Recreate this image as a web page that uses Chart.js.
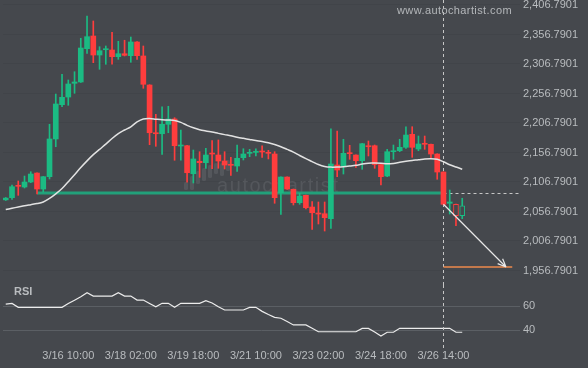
<!DOCTYPE html>
<html>
<head>
<meta charset="utf-8">
<script src="https://cdn.jsdelivr.net/npm/chart.js@4.4.1/dist/chart.umd.min.js"></script>
<style>
  html, body { margin: 0; padding: 0; background: #45484d; }
  #wrap { position: relative; width: 588px; height: 368px; overflow: hidden; }
  #priceBox { position: absolute; left: 0; top: 0; width: 588px; height: 285px; }
  #rsiBox { position: absolute; left: 0; top: 285px; width: 588px; height: 83px; }
</style>
</head>
<body>
<div id="wrap">
  <div id="priceBox"><canvas id="priceChart"></canvas></div>
  <div id="rsiBox"><canvas id="rsiChart"></canvas></div>
</div>
<script>
// 4 hour candles
const times = [
  "3/14 18:00", "3/14 22:00", "3/15 02:00", "3/15 06:00", "3/15 10:00", "3/15 14:00", "3/15 18:00", "3/15 22:00",
  "3/16 02:00", "3/16 06:00", "3/16 10:00", "3/16 14:00", "3/16 18:00", "3/16 22:00", "3/17 02:00", "3/17 06:00",
  "3/17 10:00", "3/17 14:00", "3/17 18:00", "3/17 22:00", "3/18 02:00", "3/18 06:00", "3/18 10:00", "3/18 14:00",
  "3/18 18:00", "3/18 22:00", "3/19 02:00", "3/19 06:00", "3/19 10:00", "3/19 14:00", "3/19 18:00", "3/19 22:00",
  "3/20 02:00", "3/20 06:00", "3/20 10:00", "3/20 14:00", "3/20 18:00", "3/20 22:00", "3/21 02:00", "3/21 06:00",
  "3/21 10:00", "3/21 14:00", "3/21 18:00", "3/21 22:00", "3/22 02:00", "3/22 06:00", "3/22 10:00", "3/22 14:00",
  "3/22 18:00", "3/22 22:00", "3/23 02:00", "3/23 06:00", "3/23 10:00", "3/23 14:00", "3/23 18:00", "3/23 22:00",
  "3/24 02:00", "3/24 06:00", "3/24 10:00", "3/24 14:00", "3/24 18:00", "3/24 22:00", "3/25 02:00", "3/25 06:00",
  "3/25 10:00", "3/25 14:00", "3/25 18:00", "3/25 22:00", "3/26 06:00", "3/26 10:00", "3/26 14:00", "3/26 18:00",
  "3/26 22:00", "3/27 02:00"
];

const opens = [
  2076.5, 2080.2, 2101.2, 2098.3, 2106.8, 2122.0, 2094.9, 2115.8, 2179.7, 2237.8,
  2250.8, 2274.1, 2276.3, 2332.7, 2354.2, 2322.0, 2331.0, 2330.5, 2319.2, 2324.2,
  2320.9, 2344.1, 2320.4, 2271.2, 2190.3, 2188.6, 2204.6, 2213.6, 2167.8, 2168.3,
  2120.8, 2141.9, 2139.5, 2155.9, 2152.5, 2142.4, 2136.8, 2133.9, 2148.0, 2155.4,
  2157.0, 2159.3, 2156.5, 2154.2, 2088.6, 2115.2, 2094.4, 2071.7, 2084.2, 2064.4,
  2054.2, 2053.0, 2044.6, 2135.6, 2133.9, 2156.5, 2152.5, 2142.9, 2167.8, 2168.3,
  2136.4, 2116.9, 2158.1, 2159.8, 2165.6, 2187.6, 2162.7, 2172.4, 2170.7, 2154.2,
  2123.7, 2070.7, 2069.0, 2049.7
];
const highs = [
  2080.5, 2101.7, 2108.5, 2116.9, 2124.2, 2122.5, 2116.3, 2204.6, 2255.9, 2289.3,
  2279.7, 2293.7, 2350.4, 2388.1, 2379.7, 2336.1, 2337.3, 2360.5, 2345.3, 2347.0,
  2352.5, 2344.6, 2337.3, 2271.7, 2221.5, 2234.4, 2235.1, 2215.8, 2194.9, 2169.0,
  2161.0, 2158.1, 2163.9, 2176.8, 2178.0, 2158.1, 2148.6, 2169.5, 2163.2, 2162.2,
  2163.2, 2168.3, 2160.5, 2158.1, 2115.7, 2115.7, 2095.0, 2087.6, 2084.7, 2073.4,
  2072.9, 2072.9, 2197.1, 2193.2, 2179.2, 2169.0, 2153.0, 2172.2, 2176.3, 2169.5,
  2137.0, 2162.2, 2169.5, 2179.2, 2200.5, 2200.5, 2184.7, 2184.7, 2171.2, 2154.7,
  2124.2, 2093.2, 2069.5, 2079.2
];
const lows = [
  2075.5, 2077.4, 2084.2, 2096.6, 2105.6, 2086.5, 2089.8, 2111.9, 2166.6, 2234.4,
  2236.8, 2257.1, 2275.5, 2324.9, 2309.0, 2297.8, 2306.3, 2306.3, 2314.7, 2320.4,
  2309.7, 2314.7, 2265.6, 2170.0, 2167.3, 2153.7, 2190.3, 2143.6, 2143.6, 2106.3,
  2105.1, 2114.7, 2130.0, 2129.3, 2130.0, 2128.8, 2118.1, 2124.9, 2144.1, 2149.7,
  2150.9, 2148.6, 2145.8, 2070.7, 2052.0, 2094.0, 2067.8, 2069.0, 2061.0, 2026.6,
  2035.6, 2023.7, 2028.3, 2115.8, 2120.3, 2145.2, 2131.7, 2128.3, 2150.9, 2130.0,
  2101.7, 2115.8, 2145.2, 2158.1, 2163.9, 2148.6, 2159.8, 2162.2, 2147.5, 2111.4,
  2067.8, 2052.5, 2032.7, 2044.6
];
const closes = [
  2079.5, 2098.8, 2099.5, 2106.8, 2120.3, 2094.9, 2115.8, 2179.7, 2239.0, 2250.3,
  2272.9, 2276.3, 2333.9, 2353.1, 2322.0, 2329.3, 2332.7, 2319.2, 2324.2, 2321.5,
  2344.1, 2320.9, 2272.4, 2190.3, 2188.6, 2204.6, 2213.6, 2168.3, 2169.5, 2122.5,
  2145.8, 2139.5, 2152.5, 2154.2, 2142.4, 2135.6, 2135.1, 2146.9, 2154.2, 2157.1,
  2158.2, 2157.6, 2155.4, 2080.2, 2115.2, 2094.9, 2071.7, 2083.0, 2063.2, 2054.7,
  2052.5, 2046.3, 2137.3, 2127.1, 2155.4, 2154.8, 2142.9, 2171.7, 2166.6, 2136.4,
  2115.8, 2158.1, 2159.8, 2165.6, 2186.4, 2165.6, 2171.2, 2170.7, 2154.2, 2123.7,
  2069.0, 2072.9, 2049.7, 2066.6
];

// moving average drawn over the candles
const movingAvg = [
  2060.0, 2062.3, 2064.4, 2066.6, 2068.4, 2070.2, 2073.0, 2079.0, 2086.7, 2095.8,
  2107.4, 2119.1, 2131.3, 2142.6, 2153.1, 2162.1, 2171.0, 2180.6, 2188.9, 2194.9,
  2200.4, 2208.7, 2213.7, 2214.5, 2213.3, 2212.2, 2211.9, 2211.1, 2207.9, 2202.8,
  2198.7, 2195.5, 2193.3, 2191.4, 2189.2, 2187.1, 2185.1, 2182.8, 2180.8, 2178.9,
  2177.0, 2175.5, 2173.3, 2170.2, 2166.6, 2162.0, 2157.4, 2151.7, 2146.3, 2141.4,
  2136.4, 2133.1, 2132.0, 2132.1, 2132.7, 2133.8, 2135.1, 2137.2, 2138.7, 2138.8,
  2138.5, 2137.6, 2138.3, 2140.1, 2141.8, 2143.3, 2144.4, 2145.8, 2146.3, 2145.2,
  2141.1, 2136.1, 2132.1, 2128.4
];

const rsiValues = [
  61.6, 62.1, 58.9, 58.9, 58.9, 58.9, 58.9, 58.9, 58.9, 58.9,
  62.0, 64.8, 67.7, 70.9, 68.2, 68.2, 68.2, 68.2, 70.9, 68.2,
  68.2, 64.9, 64.9, 62.1, 59.3, 62.2, 62.2, 58.9, 62.2, 62.2,
  62.2, 62.2, 64.4, 62.5, 59.4, 56.7, 56.7, 56.7, 56.7, 58.9,
  58.9, 55.6, 53.0, 50.7, 49.9, 47.2, 44.4, 44.4, 44.4, 41.7,
  38.8, 38.8, 38.8, 38.8, 38.8, 38.8, 38.8, 41.6, 41.6, 38.6,
  35.3, 38.4, 38.4, 41.6, 41.6, 41.6, 41.6, 41.6, 41.6, 41.6,
  41.6, 41.6, 38.4, 38.4
];

const priceTicks = [2406.7901, 2356.7901, 2306.7901, 2256.7901, 2206.7901, 2156.7901, 2106.7901, 2056.7901, 2006.7901, 1956.7901];
const rsiTicks = [60, 40];
const timeTicks = ["3/16 10:00", "3/18 02:00", "3/19 18:00", "3/21 10:00", "3/23 02:00", "3/24 18:00", "3/26 14:00"];

// pattern / forecast
const supportLevel = 2088.2;
const supportFrom = "3/15 14:00";
const nowTime = "3/26 14:00";
const targetLevel = 1962.7;
const targetBars = 10;      // arrow reaches target after this many bars
const targetLineBars = 11;
const openCandles = 2;      // last candles drawn hollow

const BG = "#45484d";
const UP = "#1bbb83";
const DOWN = "#ff3d3d";
const TEXT = "#b9bcbf";
const FONT = "'Liberation Sans', Arial, Helvetica, sans-serif";
const X_MIN = -0.44;
const X_MAX = 82.24;

Chart.defaults.font.family = FONT;
Chart.defaults.font.size = 11;
Chart.defaults.color = TEXT;

const nowIdx = times.indexOf(nowTime);
const supportIdx = times.indexOf(supportFrom);

const candleColor = closes.map((c, i) => (c >= opens[i] ? UP : DOWN));
const isHollow = times.map((t, i) => i >= times.length - openCandles);

const wickData = times.map((t, i) => ({ x: i, y: [lows[i], highs[i]] }));
const bodyData = times.map((t, i) => ({ x: i, y: [opens[i], closes[i]] }));
const maData = movingAvg.map((v, i) => ({ x: i, y: v }));
const rsiData = rsiValues.map((v, i) => ({ x: i, y: v }));

function formatPrice(v) {
  return Number(v).toLocaleString("en-US", { minimumFractionDigits: 4, maximumFractionDigits: 4 });
}

// keep the plot area full height, tick labels may overhang the edges
function fitRightAxis(scale) {
  scale.width = 68;
  scale.paddingTop = 0;
  scale.paddingBottom = 0;
}

// Watermark, support line, dashed markers, forecast arrow
const priceOverlay = {
  id: "priceOverlay",
  beforeDatasetsDraw(chart) {
    const { ctx, chartArea: a, scales: { x, y } } = chart;
    ctx.save();

    // watermark logo + text
    ctx.fillStyle = "#54575c";
    const logo = [[184, 182, 190], [190, 176, 190], [196, 171, 184], [202, 168, 181],
                  [208, 165, 178], [214, 163, 174], [220, 163, 176], [226, 160, 171]];
    logo.forEach(([lx, top, bottom]) => {
      ctx.beginPath();
      ctx.roundRect(lx, top, 4, bottom - top, 1.5);
      ctx.fill();
    });
    ctx.font = "20px " + FONT;
    ctx.letterSpacing = "1.6px";
    ctx.textBaseline = "alphabetic";
    ctx.fillText("autochartist", 217, 192);
    ctx.letterSpacing = "0px";

    const nx = Math.round(x.getPixelForValue(nowIdx)) + 0.5;
    const sy = y.getPixelForValue(supportLevel);

    ctx.strokeStyle = "#c6c6c6";
    ctx.lineWidth = 1;
    ctx.setLineDash([3, 3]);
    ctx.beginPath();
    ctx.moveTo(nx, a.top);
    ctx.lineTo(nx, a.bottom);
    ctx.moveTo(nx, Math.round(sy) + 0.5);
    ctx.lineTo(a.right, Math.round(sy) + 0.5);
    ctx.stroke();
    ctx.setLineDash([]);

    ctx.strokeStyle = "#22a07a";
    ctx.lineWidth = 3;
    ctx.beginPath();
    ctx.moveTo(x.getPixelForValue(supportIdx), sy);
    ctx.lineTo(nx, sy);
    ctx.stroke();
    ctx.restore();
  },
  afterDatasetsDraw(chart) {
    const { ctx, scales: { x, y } } = chart;
    const x0 = x.getPixelForValue(nowIdx);
    const y0 = y.getPixelForValue(closes[nowIdx]);
    const x1 = x.getPixelForValue(nowIdx + targetBars);
    const ty = y.getPixelForValue(targetLevel);
    ctx.save();

    ctx.strokeStyle = "#ee8a4c";
    ctx.lineWidth = 1.5;
    ctx.beginPath();
    ctx.moveTo(x0, ty);
    ctx.lineTo(x.getPixelForValue(nowIdx + targetLineBars), ty);
    ctx.stroke();

    ctx.strokeStyle = "#e8e8e8";
    ctx.lineWidth = 1.2;
    ctx.beginPath();
    ctx.moveTo(x0, y0);
    ctx.lineTo(x1, ty);
    const ang = Math.atan2(ty - y0, x1 - x0);
    const len = 9;
    ctx.moveTo(x1, ty);
    ctx.lineTo(x1 - len * Math.cos(ang - 0.4), ty - len * Math.sin(ang - 0.4));
    ctx.moveTo(x1, ty);
    ctx.lineTo(x1 - len * Math.cos(ang + 0.4), ty - len * Math.sin(ang + 0.4));
    ctx.stroke();

    ctx.fillStyle = "#b4b7ba";
    ctx.font = "11px " + FONT;
    ctx.letterSpacing = "0.4px";
    ctx.textAlign = "right";
    ctx.textBaseline = "middle";
    ctx.fillText("www.autochartist.com", 512, 11);
    ctx.restore();
  }
};

const rsiOverlay = {
  id: "rsiOverlay",
  afterDatasetsDraw(chart) {
    const { ctx, chartArea: a, scales: { x } } = chart;
    const nx = Math.round(x.getPixelForValue(nowIdx)) + 0.5;
    ctx.save();
    ctx.strokeStyle = "#c6c6c6";
    ctx.lineWidth = 1;
    ctx.setLineDash([3, 3]);
    ctx.beginPath();
    ctx.moveTo(nx, a.top);
    ctx.lineTo(nx, a.bottom + 5);
    ctx.stroke();
    ctx.setLineDash([]);
    ctx.fillStyle = TEXT;
    ctx.font = "bold 11px " + FONT;
    ctx.textBaseline = "middle";
    ctx.fillText("RSI", 14, 6.5);
    ctx.restore();
  }
};

const priceChart = new Chart(document.getElementById("priceChart"), {
  type: "bar",
  data: {
    datasets: [
      {
        type: "line",
        label: "MA",
        data: maData,
        borderColor: "#e2e2e2",
        borderWidth: 1.5,
        pointRadius: 0,
        tension: 0.3,
        order: 0,
      },
      {
        label: "Body",
        data: bodyData,
        backgroundColor: times.map((t, i) => (isHollow[i] ? BG : candleColor[i])),
        borderColor: candleColor,
        borderWidth: isHollow.map((h) => (h ? 1 : 0)),
        borderSkipped: false,
        barThickness: 5,
        minBarLength: 1,
        grouped: false,
        order: 1,
      },
      {
        label: "Wick",
        data: wickData,
        backgroundColor: candleColor,
        barThickness: 1,
        grouped: false,
        order: 2,
      },
    ],
  },
  options: {
    responsive: true,
    maintainAspectRatio: false,
    animation: false,
    layout: { padding: { left: 3, right: 0, top: 0, bottom: 0 } },
    plugins: { legend: { display: false }, tooltip: { enabled: false } },
    scales: {
      x: {
        type: "linear",
        display: false,
        offset: false,
        min: X_MIN,
        max: X_MAX,
      },
      y: {
        position: "right",
        min: 1932.21,
        max: 2415.26,
        afterBuildTicks: (scale) => {
          scale.ticks = priceTicks.map((v) => ({ value: v }));
        },
        afterFit: fitRightAxis,
        ticks: { padding: 3, color: TEXT, callback: (v) => formatPrice(v) },
        grid: { color: "rgba(0,0,0,0.05)", drawTicks: false },
        border: { display: false },
      },
    },
  },
  plugins: [priceOverlay],
});

const rsiChart = new Chart(document.getElementById("rsiChart"), {
  type: "line",
  data: {
    datasets: [
      {
        label: "RSI",
        data: rsiData,
        borderColor: "#ececec",
        borderWidth: 1.2,
        pointRadius: 0,
        tension: 0,
      },
    ],
  },
  options: {
    responsive: true,
    maintainAspectRatio: false,
    animation: false,
    layout: { padding: { left: 3, right: 0, top: 0, bottom: 0 } },
    plugins: { legend: { display: false }, tooltip: { enabled: false } },
    scales: {
      x: {
        type: "linear",
        offset: false,
        min: X_MIN,
        max: X_MAX,
        afterBuildTicks: (scale) => {
          scale.ticks = timeTicks.map((t) => ({ value: times.indexOf(t) }));
        },
        afterFit: (scale) => {
          scale.height = 23;
          scale.paddingLeft = 0;
          scale.paddingRight = 0;
        },
        ticks: {
          autoSkip: false,
          maxRotation: 0,
          padding: 4,
          color: TEXT,
          callback: (v) => times[v],
        },
        grid: { display: false, drawTicks: false },
        border: { display: false },
      },
      y: {
        position: "right",
        min: 27.9,
        max: 77.3,
        afterBuildTicks: (scale) => {
          scale.ticks = rsiTicks.map((v) => ({ value: v }));
        },
        afterFit: fitRightAxis,
        ticks: { padding: 3, color: TEXT },
        grid: { color: "#5b5f64", drawTicks: false },
        border: { display: false },
      },
    },
  },
  plugins: [rsiOverlay],
});
</script>
</body>
</html>
